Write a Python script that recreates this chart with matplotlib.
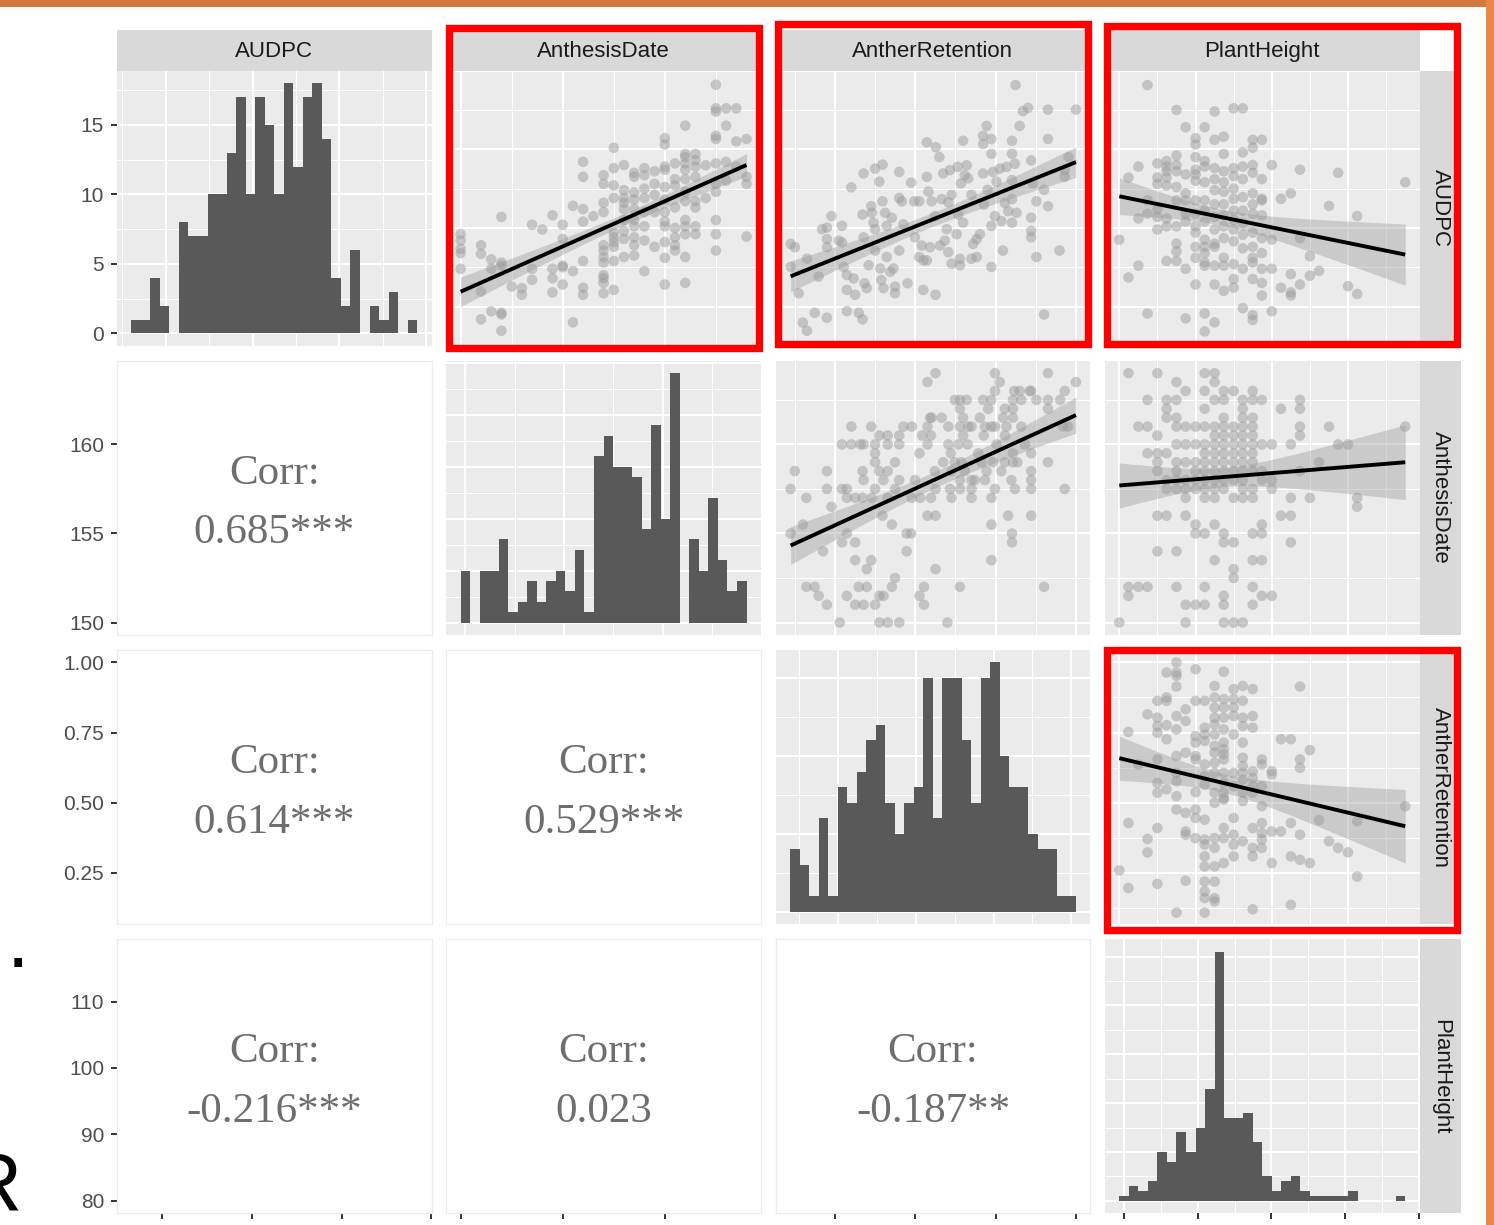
import numpy as np
import matplotlib.pyplot as plt
from matplotlib.patches import Rectangle
from matplotlib.ticker import FormatStrFormatter

plt.rcParams['font.family'] = ['Liberation Sans', 'DejaVu Sans']

W, H = 1494, 1225

variables = ["AUDPC", "AnthesisDate", "AntherRetention", "PlantHeight"]
var_min = [3.29, 150.0, 0.11, 80.0]
var_max = [19.21, 164.0, 1.0, 117.5]
var_breaks = [[5, 10, 15, 20], [150, 155, 160], [0.25, 0.50, 0.75, 1.00],
              [80, 90, 100, 110, 120]]

# histogram counts (30 bins over each variable's range)
audpc_counts = [1, 1, 4, 2, 0, 8, 7, 7, 10, 10, 13, 17, 10, 17, 15,
                10, 18, 12, 17, 18, 14, 4, 2, 6, 0, 2, 1, 3, 0, 1]
anthesis_counts = [5, 0, 5, 5, 8, 1, 2, 4, 2, 4, 5, 3, 7, 1, 16,
                   18, 15, 15, 14, 9, 19, 10, 24, 0, 8, 5, 12, 6, 3, 4]
anther_counts = [4, 3, 1, 6, 1, 8, 7, 9, 11, 12, 7, 5, 7, 8, 15,
                 6, 15, 15, 11, 7, 15, 16, 10, 8, 8, 5, 4, 4, 1, 1]
height_counts = [1, 3, 2, 4, 10, 8, 14, 10, 15, 23, 51, 17, 17, 18, 12,
                 5, 2, 4, 5, 2, 1, 1, 1, 1, 2, 0, 0, 0, 0, 1]
count_breaks = [[0, 5, 10, 15], [0, 5, 10, 15, 20, 25], [0, 5, 10, 15],
                [0, 10, 20, 30, 40, 50]]

corr_labels = {(1, 0): "0.685***", (2, 0): "0.614***", (2, 1): "0.529***",
               (3, 0): "-0.216***", (3, 1): "0.023", (3, 2): "-0.187**"}

# AnthesisDate (x) vs AUDPC (y), grouped by anthesis date
audpc_by_anthesis = [
    (150.0, [9.6, 9.2, 8.67, 8.4, 7.4]),
    (151.0, [8.9, 8.35, 5.96, 4.19]),
    (151.5, [8.0, 7.4, 4.7]),
    (152.0, [10.7, 7.8, 7.6, 4.6, 4.5, 3.46]),
    (152.5, [6.27]),
    (153.0, [6.17, 5.75]),
    (153.5, [10.2, 7.4, 6.7]),
    (154.0, [9.9]),
    (154.5, [10.8, 7.4, 6.8, 5.9]),
    (155.0, [10.2, 9.3, 7.6, 7.5, 6.4]),
    (155.5, [11.4, 7.25, 4.0]),
    (156.0, [14.2, 13.25, 11.2, 10.4, 7.9, 6.2, 5.75]),
    (156.5, [10.75]),
    (157.0, [13.35, 12.8, 11.6, 11.0, 8.9, 8.56, 8.15, 7.8, 7.0, 6.8, 6.5, 5.85]),
    (157.5, [15.1, 13.8, 12.7, 11.9, 9.7, 9.4, 9.1, 8.8, 7.9, 6.06]),
    (158.0, [14.0, 12.4, 11.9, 11.6, 11.2, 10.5, 9.8, 9.3, 8.15]),
    (158.5, [13.5, 13.25, 12.25, 11.8, 11.2, 10.5, 10.1, 9.4, 8.9, 8.25]),
    (159.0, [13.8, 13.35, 12.5, 11.9, 11.0, 10.1, 9.2, 7.25]),
    (159.5, [13.6, 12.8, 12.1, 11.0, 8.8]),
    (160.0, [15.7, 15.3, 13.9, 13.7, 12.6, 11.8, 11.0, 10.4, 10.1, 9.1, 8.1, 6.4]),
    (160.5, [14.1, 13.1, 12.7, 11.3, 10.0, 9.4, 8.9, 8.56]),
    (161.0, [16.5, 14.7, 14.5, 14.1, 13.7, 13.1, 12.3, 11.7, 10.5, 10.1, 9.6, 8.15, 6.5]),
    (161.5, [14.7, 14.3, 13.9, 13.25, 11.7, 11.3, 10.1, 9.6]),
    (162.0, [13.98, 11.9]),
    (162.5, [19.1, 17.6, 17.4, 15.85, 15.65, 14.1, 12.8, 12.3, 10.5, 9.6, 8.56]),
    (163.0, [17.6, 16.5, 14.2, 13.0]),
    (163.5, [17.6, 15.5, 13.9]),
    (164.0, [15.65, 13.25, 12.8, 9.45]),
]

# AntherRetention (x) vs AUDPC (y)
ar_13 = [0.112, 0.125, 0.112, 0.137, 0.150, 0.163, 0.163, 0.187, 0.199, 0.210,
         0.225, 0.225, 0.225, 0.225, 0.239, 0.262, 0.272, 0.272, 0.277, 0.287,
         0.287, 0.287, 0.301, 0.308, 0.313, 0.324, 0.336, 0.339, 0.336, 0.339,
         0.342, 0.349, 0.355, 0.363, 0.365, 0.370, 0.375, 0.375, 0.375, 0.388,
         0.391, 0.394, 0.398, 0.398, 0.401, 0.406, 0.411, 0.411, 0.422, 0.427,
         0.432, 0.437, 0.437, 0.450, 0.450, 0.450, 0.458, 0.463, 0.476, 0.487,
         0.497, 0.499, 0.512, 0.512, 0.520, 0.525, 0.525, 0.536, 0.536, 0.536,
         0.541, 0.546, 0.551, 0.561, 0.564, 0.563, 0.575, 0.577, 0.582, 0.587,
         0.592, 0.598, 0.603, 0.603, 0.608, 0.613, 0.613, 0.629, 0.632, 0.634,
         0.639, 0.639, 0.642, 0.649, 0.649, 0.654, 0.660, 0.665, 0.675, 0.675,
         0.680, 0.691, 0.691, 0.701, 0.711, 0.711, 0.711, 0.714, 0.722, 0.725,
         0.737, 0.737, 0.737, 0.737, 0.742, 0.748, 0.753, 0.763, 0.768, 0.773,
         0.779, 0.784, 0.789, 0.801, 0.801, 0.801, 0.801, 0.801, 0.810, 0.815,
         0.825, 0.835, 0.851, 0.861, 0.861, 0.861, 0.861, 0.866, 0.877, 0.877,
         0.901, 0.901, 0.913, 0.913, 0.913, 0.949, 0.965, 0.965, 0.977, 1.0,
         0.812]
audpc_13 = [8.98, 8.77, 7.52, 5.85, 3.98, 3.46, 8.04, 4.60, 6.90, 9.92,
            10.02, 9.29, 8.77, 4.29, 10.75, 9.19, 9.08, 10.13, 7.52, 7.00,
            6.06, 4.71, 12.58, 6.79, 5.75, 4.60, 4.19, 13.46, 10.85, 9.40,
            6.48, 6.17, 7.63, 11.38, 10.96, 10.33, 13.77, 9.92, 8.56, 12.94,
            7.42, 6.69, 14.02, 11.69, 6.17, 10.96, 10.13, 8.15, 7.21, 10.65,
            7.42, 6.27, 5.85, 13.56, 11.90, 8.56, 11.69, 10.23, 6.48, 12.88,
            11.69, 9.40, 11.69, 8.15, 8.88, 7.94, 6.06, 7.94, 13.25, 15.44,
            12.31, 8.77, 11.69, 10.75, 15.13, 5.75, 14.50, 8.88, 11.83, 13.46,
            9.19, 9.92, 11.63, 8.46, 13.67, 12.10, 7.73, 9.60, 13.88, 10.85,
            8.04, 7.63, 12.83, 15.54, 10.33, 13.35, 13.98, 13.15, 12.10, 8.04,
            8.98, 9.29, 8.15, 9.60, 15.33, 15.85, 13.46, 11.48, 16.48, 12.42,
            15.65, 14.71, 10.13, 7.52, 13.56, 10.75, 12.94, 13.77, 10.44, 8.56,
            11.58, 13.88, 11.06, 15.54, 14.71, 13.04, 11.83, 10.33, 14.08, 10.96,
            16.48, 17.42, 17.63, 14.29, 10.65, 9.81, 9.40, 12.83, 11.69, 8.15,
            12.42, 4.50, 17.52, 15.65, 11.38, 8.56, 13.67, 13.25, 14.50, 17.52,
            19.08]

# PlantHeight (x) vs AUDPC (y), grouped by plant height
audpc_by_height = [
    (80.0, [9.25]),
    (81.2, [13.2, 6.85]),
    (82.5, [13.9, 10.6, 7.6]),
    (83.7, [19.08, 11.75, 10.9, 4.56]),
    (85.0, [14.1, 13.2, 12.8, 11.2, 10.7, 9.9]),
    (86.2, [14.25, 13.9, 13.6, 13.2, 12.7, 10.6, 10.1, 7.9]),
    (87.5, [17.5, 14.6, 14.0, 13.6, 12.6, 11.75, 10.1, 9.0, 8.5, 7.9]),
    (88.7, [16.4, 13.4, 12.2, 11.75, 10.9, 10.4, 7.4, 4.25]),
    (90.0, [15.7, 15.3, 14.5, 13.7, 13.4, 13.0, 11.75, 10.9, 10.1, 9.7, 8.8, 8.1, 6.4]),
    (91.2, [16.4, 14.25, 13.9, 12.9, 11.75, 11.1, 10.4, 9.25, 8.8, 8.4, 7.8, 7.6, 4.56, 3.42]),
    (92.5, [17.4, 15.6, 13.8, 13.1, 12.4, 11.5, 10.7, 9.9, 9.0, 8.8, 7.6, 6.4, 4.0]),
    (93.7, [15.8, 14.7, 13.6, 12.9, 12.3, 11.5, 10.8, 10.1, 9.35, 8.1, 7.6, 6.0]),
    (95.0, [17.6, 13.8, 13.3, 12.5, 11.85, 11.1, 10.5, 9.9, 9.15, 7.7, 6.75, 6.2]),
    (96.2, [17.6, 14.8, 13.9, 13.1, 11.96, 11.1, 10.3, 9.56, 8.7, 7.4, 4.9]),
    (97.5, [15.6, 15.1, 14.0, 13.5, 12.2, 11.5, 10.9, 9.7, 8.8, 8.1, 7.8, 6.75, 4.46, 4.15]),
    (98.7, [15.6, 13.1, 11.85, 11.75, 10.8, 9.35, 8.4, 7.4, 6.5, 5.7]),
    (100.0, [14.0, 9.25, 7.4, 4.7]),
    (101.2, [11.85, 6.2]),
    (102.5, [12.2, 7.06, 5.9, 5.7]),
    (103.7, [13.7, 9.35, 6.4]),
    (105.0, [8.2, 6.96]),
    (106.2, [7.27]),
    (107.5, [11.4]),
    (108.7, [13.5]),
    (110.0, [6.3]),
    (111.2, [10.75, 5.8]),
    (117.5, [12.9]),
]

# AntherRetention (x) vs AnthesisDate (y), grouped by anthesis date
anther_by_anthesis = [
    (164.0, [0.563, 0.748, 0.913]),
    (163.5, [0.538, 0.763, 1.0]),
    (163.0, [0.748, 0.808, 0.825, 0.856, 0.861, 0.965]),
    (162.5, [0.623, 0.639, 0.660, 0.711, 0.737, 0.804, 0.830, 0.877, 0.913, 0.951]),
    (162.0, [0.639, 0.727, 0.779, 0.804, 0.913]),
    (161.5, [0.546, 0.551, 0.582, 0.649, 0.701, 0.773, 0.804]),
    (161.0, [0.301, 0.363, 0.463, 0.489, 0.538, 0.603, 0.639, 0.665, 0.675, 0.717,
             0.737, 0.748, 0.784, 0.830, 0.960, 0.975]),
    (160.5, [0.388, 0.414, 0.450, 0.522, 0.549, 0.649, 0.713, 0.779]),
    (160.0, [0.272, 0.301, 0.329, 0.339, 0.375, 0.414, 0.450, 0.538, 0.603, 0.634,
             0.663, 0.753, 0.841]),
    (159.5, [0.375, 0.513, 0.611, 0.696, 0.804, 0.861]),
    (159.0, [0.375, 0.437, 0.587, 0.623, 0.644, 0.706, 0.742, 0.779, 0.804, 0.818, 0.913]),
    (158.5, [0.125, 0.225, 0.336, 0.388, 0.414, 0.561, 0.613, 0.654, 0.722, 0.768, 0.861]),
    (158.0, [0.339, 0.401, 0.450, 0.499, 0.639, 0.675, 0.685, 0.717, 0.799, 0.861]),
    (157.5, [0.112, 0.225, 0.272, 0.287, 0.375, 0.437, 0.563, 0.608, 0.639, 0.675,
             0.748, 0.810, 0.861, 0.965]),
    (157.0, [0.161, 0.287, 0.313, 0.336, 0.365, 0.414, 0.489, 0.515, 0.549, 0.613,
             0.675, 0.737]),
    (156.5, [0.239]),
    (156.0, [0.398, 0.538, 0.563, 0.789, 0.861]),
    (155.5, [0.150, 0.427, 0.737]),
    (155.0, [0.112, 0.287, 0.473, 0.487, 0.801]),
    (154.5, [0.272, 0.313, 0.801]),
    (154.0, [0.213, 0.473]),
    (153.5, [0.313, 0.363, 0.737]),
    (153.0, [0.349, 0.563]),
    (152.5, [0.437]),
    (152.0, [0.161, 0.187, 0.324, 0.349, 0.427, 0.527, 0.639, 0.901]),
    (151.5, [0.199, 0.287, 0.388, 0.401, 0.513]),
    (151.0, [0.225, 0.313, 0.339, 0.375, 0.527]),
    (150.0, [0.265, 0.388, 0.414, 0.450, 0.600]),
]

# PlantHeight (x) vs AnthesisDate (y), grouped by anthesis date
height_by_anthesis = [
    (164.0, [81.2, 85.0, 91.2, 92.5]),
    (163.5, [87.5, 92.5]),
    (163.0, [88.7, 91.2, 93.7, 95.0, 97.5]),
    (162.5, [83.7, 86.2, 87.5, 92.5, 93.7, 96.2, 97.5, 98.7, 103.7]),
    (162.0, [86.2, 91.2, 96.2, 101.2, 103.7]),
    (161.5, [86.2, 87.5, 93.7, 96.2, 97.5]),
    (161.0, [82.5, 83.7, 87.5, 88.7, 90.0, 91.2, 92.5, 93.7, 95.0, 96.2, 97.5,
             103.7, 107.5, 117.5]),
    (160.5, [85.0, 92.5, 93.7, 95.0, 96.2, 97.5, 103.7]),
    (160.0, [87.5, 88.7, 90.0, 91.2, 92.5, 93.7, 95.0, 96.2, 97.5, 98.7, 100.0,
             102.5, 108.7, 110.0]),
    (159.5, [83.7, 85.0, 86.2, 91.2, 92.5, 93.7, 95.0, 96.2, 97.5]),
    (159.0, [85.0, 87.5, 88.7, 90.0, 91.2, 92.5, 93.7, 95.0, 96.2, 97.5, 106.2]),
    (158.5, [85.0, 87.5, 90.0, 91.2, 92.5, 93.7, 95.0, 96.2, 97.5, 98.7, 103.7]),
    (158.0, [86.2, 87.5, 88.7, 90.0, 91.2, 92.5, 93.7, 95.0, 96.2, 98.7, 100.0]),
    (157.5, [86.2, 87.5, 88.7, 90.0, 91.2, 92.5, 93.7, 96.2, 97.5, 100.0]),
    (157.0, [88.7, 91.2, 92.5, 95.0, 96.2, 97.5, 102.5, 105.0, 111.2]),
    (156.5, [111.2]),
    (156.0, [85.0, 86.2, 88.7, 101.2, 102.5]),
    (155.5, [90.0, 92.5, 98.7]),
    (155.0, [90.0, 91.2, 93.7, 97.5, 98.7]),
    (154.5, [93.7, 95.0, 102.5]),
    (154.0, [85.0, 87.5]),
    (153.5, [92.5, 97.5, 98.7]),
    (153.0, [95.0]),
    (152.5, [95.0]),
    (152.0, [81.2, 82.5, 83.7, 87.5, 91.2, 97.5]),
    (151.5, [81.2, 93.7, 98.7, 100.0]),
    (151.0, [88.7, 90.0, 91.2, 93.7, 97.5]),
    (150.0, [80.0, 88.7, 93.7, 95.0, 96.2]),
]

# PlantHeight (x) vs AntherRetention (y), grouped by plant height
anther_by_height = [
    (80.0, [0.258]),
    (81.2, [0.752, 0.427, 0.195]),
    (82.5, [0.636]),
    (83.7, [0.815, 0.370, 0.322]),
    (85.0, [0.863, 0.803, 0.773, 0.749, 0.654, 0.570, 0.535, 0.409, 0.210]),
    (86.2, [0.964, 0.875, 0.863, 0.776, 0.726, 0.547]),
    (87.5, [1.0, 0.964, 0.952, 0.914, 0.809, 0.761, 0.666, 0.606, 0.576, 0.523, 0.475, 0.107]),
    (88.7, [0.833, 0.791, 0.678, 0.463, 0.397, 0.385, 0.221]),
    (90.0, [0.976, 0.863, 0.737, 0.714, 0.666, 0.654, 0.537, 0.475, 0.445, 0.373]),
    (91.2, [0.863, 0.767, 0.743, 0.720, 0.636, 0.594, 0.564, 0.439, 0.368, 0.350,
            0.308, 0.272, 0.218, 0.183, 0.159, 0.107]),
    (92.5, [0.916, 0.875, 0.839, 0.803, 0.779, 0.743, 0.702, 0.678, 0.642, 0.606,
            0.535, 0.499, 0.373, 0.338, 0.272, 0.218, 0.159, 0.147]),
    (93.7, [0.967, 0.869, 0.839, 0.803, 0.761, 0.714, 0.690, 0.672, 0.654, 0.606,
            0.570, 0.535, 0.517, 0.511, 0.409, 0.373, 0.284]),
    (95.0, [0.905, 0.869, 0.839, 0.809, 0.743, 0.606, 0.558, 0.445, 0.385, 0.350, 0.308]),
    (96.2, [0.916, 0.863, 0.803, 0.773, 0.714, 0.660, 0.630, 0.606, 0.582, 0.535,
            0.505, 0.362]),
    (97.5, [0.905, 0.809, 0.767, 0.612, 0.588, 0.558, 0.535, 0.409, 0.338, 0.308, 0.119]),
    (98.7, [0.654, 0.636, 0.558, 0.487, 0.427, 0.391, 0.368, 0.338]),
    (100.0, [0.612, 0.600, 0.397, 0.284]),
    (101.2, [0.726, 0.397]),
    (102.5, [0.726, 0.427, 0.308, 0.135]),
    (103.7, [0.914, 0.654, 0.624, 0.385, 0.296]),
    (105.0, [0.687, 0.284]),
    (106.2, [0.437]),
    (107.5, [0.362]),
    (108.7, [0.338]),
    (110.0, [0.322]),
    (111.2, [0.433, 0.236]),
    (117.5, [0.487]),
]


def expand_groups(groups, level_is_x):
    xs, ys = [], []
    for level, vals in groups:
        for v in vals:
            if level_is_x:
                xs.append(level); ys.append(v)
            else:
                xs.append(v); ys.append(level)
    return np.array(xs), np.array(ys)


scatter_data = {
    (0, 1): expand_groups(audpc_by_anthesis, True),
    (0, 2): (np.array(ar_13), np.array(audpc_13)),
    (0, 3): expand_groups(audpc_by_height, True),
    (1, 2): expand_groups(anther_by_anthesis, False),
    (1, 3): expand_groups(height_by_anthesis, False),
    (2, 3): expand_groups(anther_by_height, True),
}
hist_counts = [audpc_counts, anthesis_counts, anther_counts, height_counts]

# ---- layout (pixels) ----
col_left = [117, 446.3, 775.7, 1105]
col_w = 314.5
row_top = [70.5, 360.7, 650, 939.3]
row_h = [275.5, 274.3, 274.3, 274]
strip_top, strip_bot = 29.5, 70.5
rstrip_l, rstrip_r = 1419.5, 1461

fig = plt.figure(figsize=(W / 100, H / 100), dpi=100)


def fig_rect(x0, y0, x1, y1):
    return [x0 / W, 1 - y1 / H, (x1 - x0) / W, (y1 - y0) / H]


def expanded(lo, hi, mult=0.05):
    d = (hi - lo) * mult
    return lo - d, hi + d


def minor_of(breaks, lo, hi):
    step = breaks[1] - breaks[0]
    cand = np.arange(breaks[0] - step / 2, breaks[-1] + step, step)
    return [m for m in cand if lo <= m <= hi]


def set_scale(ax, axis, breaks, lim):
    inside = [b for b in breaks if lim[0] <= b <= lim[1]]
    mins = minor_of(breaks, *lim)
    if axis == 'x':
        ax.set_xticks(inside); ax.set_xticks(mins, minor=True); ax.set_xlim(lim)
    else:
        ax.set_yticks(inside); ax.set_yticks(mins, minor=True); ax.set_ylim(lim)


def lm_band(x, y, n=80):
    b, a = np.polyfit(x, y, 1)
    xs = np.linspace(x.min(), x.max(), n)
    fit = a + b * xs
    resid = y - (a + b * x)
    s = np.sqrt(np.sum(resid ** 2) / (len(x) - 2))
    sxx = np.sum((x - x.mean()) ** 2)
    se = s * np.sqrt(1 / len(x) + (xs - x.mean()) ** 2 / sxx)
    return xs, fit, fit - 1.97 * se, fit + 1.97 * se


var_lim = [expanded(var_min[k], var_max[k]) for k in range(4)]

for i in range(4):
    for j in range(4):
        ax = fig.add_axes(fig_rect(col_left[j], row_top[i],
                                   col_left[j] + col_w, row_top[i] + row_h[i]))
        ax.tick_params(which='both', length=0, labelbottom=False, labelleft=False)
        if i == j:
            counts = hist_counts[i]
            nb = len(counts)
            w = (var_max[i] - var_min[i]) / (nb - 1)
            edges = var_min[i] - w / 2 + w * np.arange(nb + 1)
            ax.set_facecolor('#EBEBEB')
            ax.bar(edges[:-1], counts, width=w, align='edge', color='#595959', lw=0)
            set_scale(ax, 'x', var_breaks[i], expanded(edges[0], edges[-1]))
            set_scale(ax, 'y', count_breaks[i], expanded(0, max(counts)))
            ax.grid(which='major', color='white', lw=1.5)
            ax.grid(which='minor', color='white', lw=0.75)
            ax.set_axisbelow(True)
            for sp in ax.spines.values():
                sp.set_visible(False)
        elif j > i:
            x, y = scatter_data[(i, j)]
            ax.set_facecolor('#EBEBEB')
            ax.scatter(x, y, s=58, color='#9c9c9c', alpha=0.5, edgecolors='none',
                       zorder=2)
            xs, fit, lo, hi = lm_band(x, y)
            ax.fill_between(xs, lo, hi, color='#999999', alpha=0.4, lw=0, zorder=3)
            ax.plot(xs, fit, color='black', lw=2.8, zorder=4, solid_capstyle='butt')
            set_scale(ax, 'x', var_breaks[j], var_lim[j])
            set_scale(ax, 'y', var_breaks[i], var_lim[i])
            ax.grid(which='major', color='white', lw=1.5)
            ax.grid(which='minor', color='white', lw=0.75)
            ax.set_axisbelow(True)
            for sp in ax.spines.values():
                sp.set_visible(False)
        else:
            ax.set_facecolor('white')
            set_scale(ax, 'x', var_breaks[j], var_lim[j])
            set_scale(ax, 'y', var_breaks[i], var_lim[i])
            for sp in ax.spines.values():
                sp.set_color('#EBEBEB'); sp.set_linewidth(0.9)
            h = row_h[i]
            ax.text(0.5, 0.5 + 14 / h, "Corr:", transform=ax.transAxes,
                    ha='center', va='baseline', family='Liberation Serif',
                    fontsize=31, color='#6e6e6e')
            ax.text(0.5, 0.5 - 45.5 / h, corr_labels[(i, j)], transform=ax.transAxes,
                    ha='center', va='baseline', family='Liberation Serif',
                    fontsize=31, color='#6e6e6e')
        if j == 0:
            ax.tick_params(axis='y', which='major', length=4.3, width=1.4,
                           color='#333333', labelleft=True, labelsize=15,
                           labelcolor='#4D4D4D', pad=5)
            if i == 2:
                ax.yaxis.set_major_formatter(FormatStrFormatter('%.2f'))
        if i == 3:
            ax.tick_params(axis='x', which='major', length=4.3, width=1.4,
                           color='#333333')

# strips
for j, name in enumerate(variables):
    sax = fig.add_axes(fig_rect(col_left[j], strip_top, col_left[j] + col_w, strip_bot))
    sax.set_facecolor('#D9D9D9')
    sax.set_xticks([]); sax.set_yticks([])
    for sp in sax.spines.values():
        sp.set_visible(False)
    sax.text(0.5, 0.47, name, transform=sax.transAxes, ha='center', va='center',
             fontsize=16, color='#1A1A1A')
for i, name in enumerate(variables):
    sax = fig.add_axes(fig_rect(rstrip_l, row_top[i], rstrip_r, row_top[i] + row_h[i]))
    sax.set_facecolor('#D9D9D9')
    sax.set_xticks([]); sax.set_yticks([])
    for sp in sax.spines.values():
        sp.set_visible(False)
    sax.text(0.5, 0.5, name, transform=sax.transAxes, ha='center', va='center',
             rotation=-90, fontsize=16, color='#1A1A1A')

# red highlight boxes
for (x0, y0, x1, y1) in [(448.5, 27.8, 758.5, 347.5), (777.5, 24, 1088, 344),
                         (1106.5, 26, 1457, 344), (1106.5, 650, 1457, 930)]:
    fig.add_artist(Rectangle((x0 / W, 1 - y1 / H), (x1 - x0) / W, (y1 - y0) / H,
                             transform=fig.transFigure, fill=False,
                             ec='#FF0000', lw=5.3, zorder=20))

# slide frame bits around the screenshot
fig.add_artist(Rectangle((0, 1 - 7 / H), 1, 7 / H, transform=fig.transFigure,
                         color='#D27A3E', lw=0, zorder=21))
fig.add_artist(Rectangle((1486 / W, 0), 8 / W, 1, transform=fig.transFigure,
                         color='#EA8744', lw=0, zorder=21))
fig.text(21 / W, 1 - 1210 / H, "R", ha='right', va='baseline', fontsize=58,
         color='black')
fig.text(18 / W, 1 - 967 / H, ".", ha='center', va='baseline', fontsize=58,
         color='black')

fig.savefig('out.png', dpi=100)
